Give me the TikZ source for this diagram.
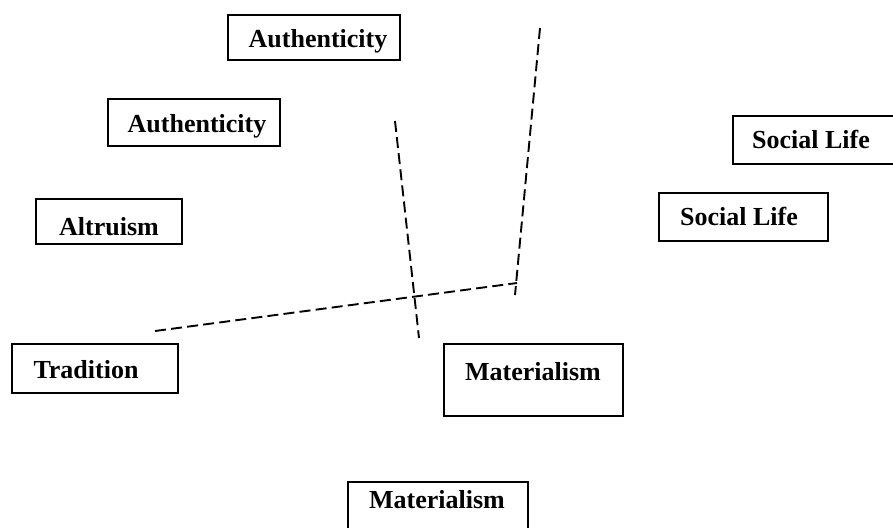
\documentclass[tikz,border=0pt]{standalone}
\usepackage{fontspec}
\setmainfont{Liberation Serif}
\begin{document}
\begin{tikzpicture}[x=0.5pt,y=-0.5pt,
  box/.style={draw, line width=1pt, inner sep=0pt, anchor=north west},
  lbl/.style={anchor=base, inner sep=0pt, font=\fontsize{13}{15}\selectfont\bfseries},
  dline/.style={line width=0.95pt, dash pattern=on 5.5pt off 2.6pt}]
\useasboundingbox (0,0) rectangle (893,527);
\clip (0,0) rectangle (893,527);
% boxes
\node[box, minimum width=86pt,   minimum height=22.5pt] (b1) at (227,14) {};
\node[box, minimum width=86pt,   minimum height=23.5pt] (b2) at (107,98) {};
\node[box, minimum width=73pt,   minimum height=22.5pt] (b3) at (35,198) {};
\node[box, minimum width=86.5pt, minimum height=24pt]   (b4) at (732,115) {};
\node[box, minimum width=84.5pt, minimum height=24pt]   (b5) at (658,192) {};
\node[box, minimum width=83pt,   minimum height=24.5pt] (b6) at (11,343) {};
\node[box, minimum width=89.5pt, minimum height=36pt]   (b7) at (443,343) {};
\node[box, minimum width=90pt,   minimum height=29.5pt] (b8) at (347,481) {};
% labels
\node[lbl] (t1) at (318,47) {Authenticity};
\node[lbl] (t2) at (197,132) {Authenticity};
\node[lbl] (t3) at (109,235) {Altruism};
\node[lbl] (t4) at (811,148) {Social Life};
\node[lbl] (t5) at (739,225) {Social Life};
\node[lbl] (t6) at (86,378) {Tradition};
\node[lbl] (t7) at (533,380) {Materialism};
\node[lbl] (t8) at (437,508) {Materialism};
% dashed lines
\coordinate (p1) at (540,28);
\coordinate (p2) at (515,295);
\coordinate (q1) at (155,331);
\coordinate (q2) at (517,283);
\coordinate (r1) at (395,121);
\coordinate (r2) at (419,338);
\draw[dline] (p1) -- (p2);
\draw[dline] (q1) -- (q2);
\draw[dline] (r1) -- (r2);
\end{tikzpicture}
\end{document}
